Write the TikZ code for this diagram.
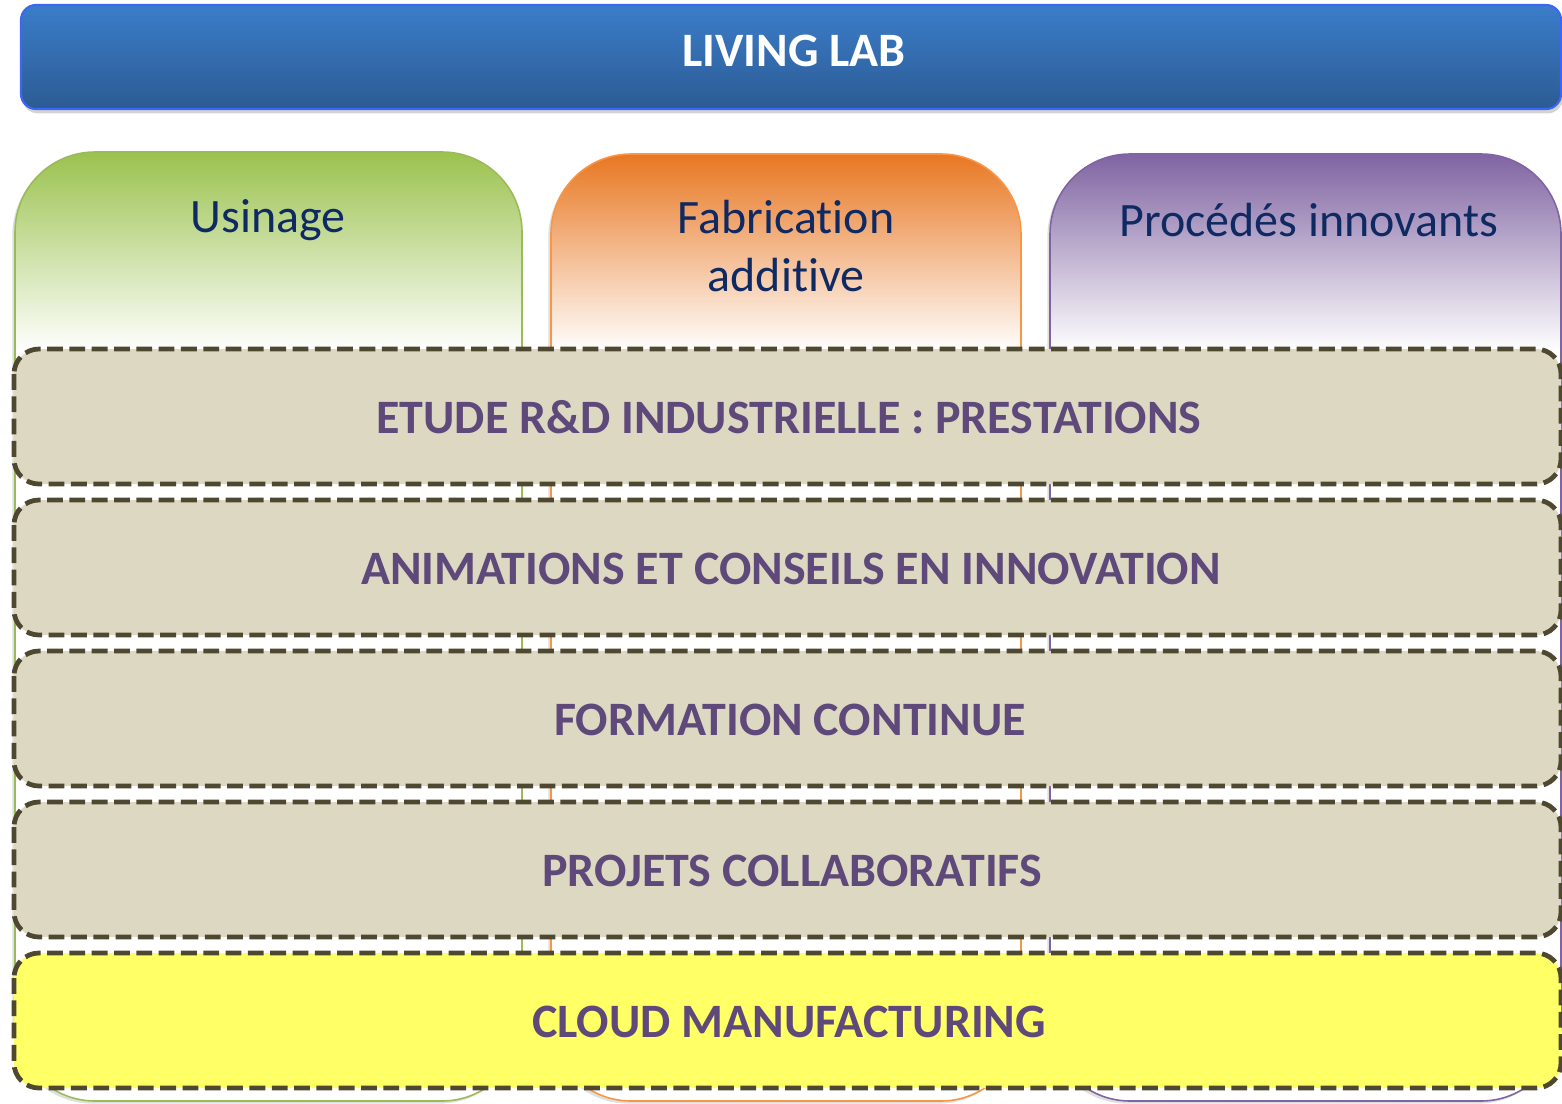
\documentclass[tikz,border=0pt]{standalone}
\usepackage{fontspec}
\setmainfont{Carlito}[Ligatures=NoCommon]
\usetikzlibrary{shadows}

\definecolor{bannertop}{HTML}{3B7DCA}
\definecolor{bannerbot}{HTML}{2C5B93}
\definecolor{bannerline}{HTML}{3D66F5}
\definecolor{greentop}{HTML}{9BC24E}
\definecolor{greenline}{HTML}{9BBB59}
\definecolor{orangetop}{HTML}{E87722}
\definecolor{orangeline}{HTML}{F79646}
\definecolor{purpletop}{HTML}{8064A2}
\definecolor{purpleline}{HTML}{8064A2}
\definecolor{headtext}{HTML}{0F2A63}
\definecolor{bandfill}{HTML}{DDD8C2}
\definecolor{bandline}{HTML}{4F4831}
\definecolor{bandtext}{HTML}{5F497A}
\definecolor{cloudfill}{HTML}{FFFF66}

\tikzset{
  bigfont/.style={font=\fontsize{27.3}{33}\selectfont},
  headlabel/.style={bigfont, text=headtext, align=center, inner sep=0pt},
  bandlabel/.style={font=\fontsize{27.3}{33}\selectfont\bfseries, text=bandtext, inner sep=0pt},
  band/.style={fill=bandfill, draw=bandline, line width=2.7pt,
    dash pattern=on 9pt off 3.7pt, rounded corners=0.5cm},
  column/.style={rounded corners=1.6cm},
}

\begin{document}
\begin{tikzpicture}[x=0.02cm, y=-0.02cm]
\useasboundingbox (0,0) rectangle (1562,1103);

% ---- top banner ----
\path[rounded corners=0.3cm, top color=bannertop, bottom color=bannerbot,
  draw=bannerline, line width=1.2pt,
  drop shadow={opacity=0.35, shadow xshift=1pt, shadow yshift=-2.5pt}]
  (21,5) rectangle (1561,109);
\node[font=\fontsize{27.3}{33}\selectfont\bfseries, text=white, inner sep=0pt] (living) at (794,51) {LIVING LAB};

% ---- three columns (white body, coloured gradient head) ----
\foreach \xa/\xb/\yt/\tc/\lc in {15/522/152/greentop/greenline,
                                  551/1021/154/orangetop/orangeline,
                                  1050/1561/154/purpletop/purpleline}{
  \fill[column, white, drop shadow={opacity=0.25, shadow xshift=-1.5pt, shadow yshift=-1.5pt}]
    (\xa,\yt) rectangle (\xb,1101);
  \begin{scope}
    \clip[column] (\xa,\yt) rectangle (\xb,1101);
    \shade[top color=\tc, bottom color=white] (\xa,\yt) rectangle (\xb,352);
  \end{scope}
  \draw[column, \lc, line width=0.9pt] (\xa,\yt) rectangle (\xb,1101);
}

\node[headlabel] (usinage) at (268,220) {Usinage};
\node[headlabel] (fabadd) at (786,246) {Fabrication\\additive};
\node[headlabel] (procedes) at (1309,220) {Procédés innovants};

% ---- horizontal dashed bands ----
\path[band] (14,349) rectangle (1561,484);
\path[band] (14,500) rectangle (1561,635);
\path[band] (14,651) rectangle (1561,786);
\path[band] (14,802) rectangle (1561,937);
\path[band, fill=cloudfill] (14,953) rectangle (1561,1088);

\node[bandlabel] (etude) at (789,417) {ETUDE R\&D INDUSTRIELLE : PRESTATIONS};
\node[bandlabel] (animations) at (791,569) {ANIMATIONS ET CONSEILS EN INNOVATION};
\node[bandlabel] (formation) at (790,720) {FORMATION CONTINUE};
\node[bandlabel] (projets) at (792,871) {PROJETS COLLABORATIFS};
\node[bandlabel] (cloud) at (789,1022) {CLOUD MANUFACTURING};
\end{tikzpicture}
\end{document}
